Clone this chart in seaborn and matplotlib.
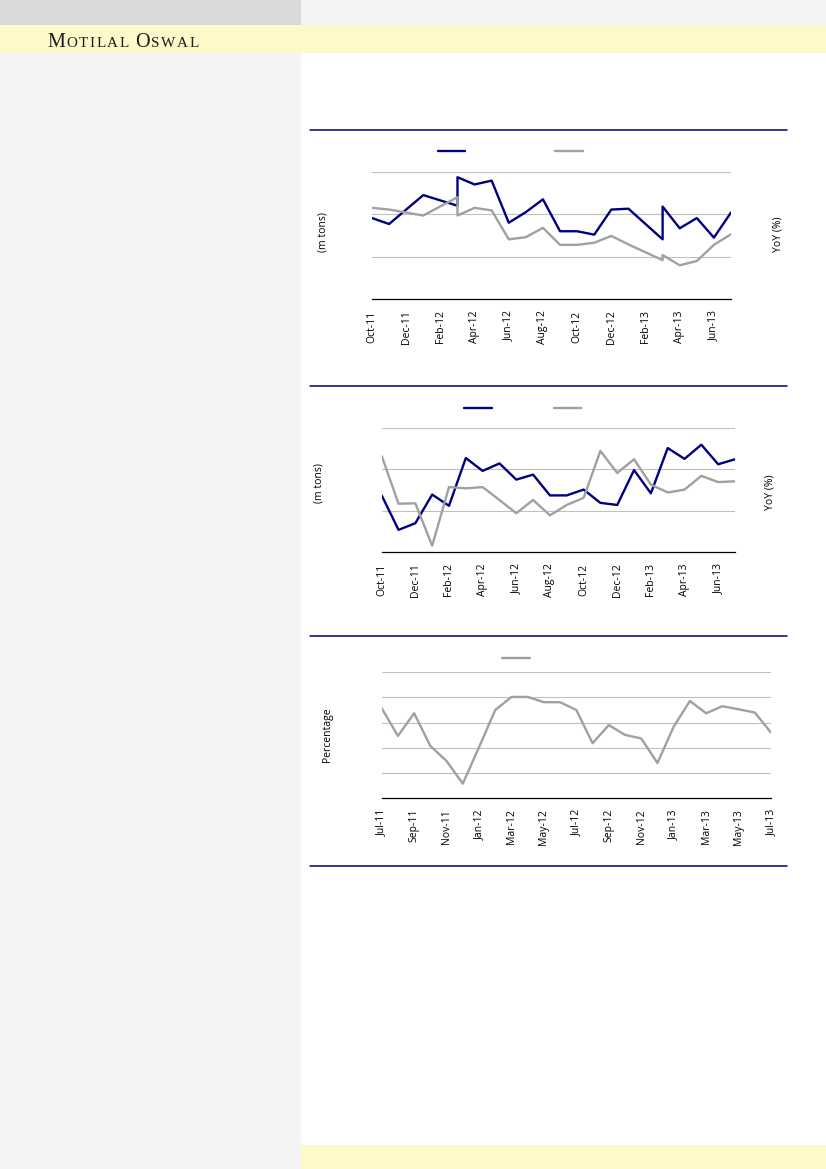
import numpy as np
import pandas as pd
import matplotlib
matplotlib.use("Agg")
import matplotlib.pyplot as plt
import seaborn as sns
from matplotlib.patches import Rectangle
from matplotlib.lines import Line2D

# -------------------
# Data (y in gridline units, no tick labels shown)
months1 = ["Oct-11", "Nov-11", "Jan-12", "Mar-12", "Mar-12", "Apr-12", "May-12",
           "Jun-12", "Jul-12", "Aug-12", "Sep-12", "Oct-12", "Nov-12", "Dec-12",
           "Jan-13", "Mar-13", "Mar-13", "Apr-13", "May-13", "Jun-13", "Jul-13"]
volume1 = [1.91, 1.77, 2.45, 2.20, 2.87, 2.70, 2.79, 1.80, 2.05, 2.35, 1.60,
           1.60, 1.52, 2.11, 2.13, 1.41, 2.18, 1.67, 1.91, 1.45, 2.04]
yoy1 = [2.15, 2.11, 1.97, 2.40, 1.97, 2.15, 2.09, 1.41, 1.46, 1.68, 1.28,
        1.28, 1.33, 1.49, 1.29, 0.92, 1.04, 0.80, 0.90, 1.28, 1.53]

months2 = ["Oct-11", "Nov-11", "Dec-11", "Jan-12", "Feb-12", "Mar-12", "Apr-12",
           "May-12", "Jun-12", "Jul-12", "Aug-12", "Sep-12", "Oct-12", "Nov-12",
           "Dec-12", "Jan-13", "Feb-13", "Mar-13", "Apr-13", "May-13", "Jun-13",
           "Jul-13"]
volume2 = [1.37, 0.54, 0.70, 1.39, 1.12, 2.27, 1.96, 2.14, 1.75, 1.87, 1.37,
           1.37, 1.51, 1.19, 1.14, 1.98, 1.42, 2.51, 2.25, 2.59, 2.12, 2.24]
yoy2 = [2.32, 1.17, 1.18, 0.16, 1.57, 1.54, 1.57, 1.26, 0.94, 1.26, 0.89,
        1.14, 1.31, 2.44, 1.91, 2.24, 1.63, 1.44, 1.51, 1.84, 1.69, 1.71]

months3 = ["Jul-11", "Aug-11", "Sep-11", "Oct-11", "Nov-11", "Dec-11", "Jan-12",
           "Feb-12", "Mar-12", "Apr-12", "May-12", "Jun-12", "Jul-12", "Aug-12",
           "Sep-12", "Oct-12", "Nov-12", "Dec-12", "Jan-13", "Feb-13", "Mar-13",
           "Apr-13", "May-13", "Jun-13", "Jul-13"]
pct3 = [3.57, 2.47, 3.37, 2.07, 1.47, 0.57, 2.02, 3.50, 4.02, 4.02, 3.81, 3.81,
        3.50, 2.18, 2.90, 2.51, 2.37, 1.39, 2.84, 3.86, 3.37, 3.65, 3.53, 3.40, 2.60]

ticks12 = ["Oct-11", "Dec-11", "Feb-12", "Apr-12", "Jun-12", "Aug-12", "Oct-12",
           "Dec-12", "Feb-13", "Apr-13", "Jun-13"]
ticks3 = ["Jul-11", "Sep-11", "Nov-11", "Jan-12", "Mar-12", "May-12", "Jul-12",
          "Sep-12", "Nov-12", "Jan-13", "Mar-13", "May-13", "Jul-13"]

NAVY = "#000080"
GREY = "#a0a0a0"
GRID = "#c0c0c0"
W, H = 826, 1169

sns.set_style("white")
plt.rcParams["font.family"] = ["Open Sans", "DejaVu Sans"]
plt.rcParams["text.color"] = "black"
plt.rcParams["xtick.color"] = "black"


def month_pos(labels):
    d = pd.to_datetime(pd.Series(labels), format="%b-%y")
    return (d.dt.year * 12 + d.dt.month - 1).to_numpy()


def box(x0, y0, x1, y1):
    # pixel box (top-left origin) -> figure fraction rect
    return [x0 / W, 1 - y1 / H, (x1 - x0) / W, (y1 - y0) / H]


def style(ax, months, ticks, ymax):
    pos = month_pos(months)
    ax.set_xlim(pos.min(), pos.max())
    ax.set_ylim(0, ymax)
    ax.set_yticks(np.arange(1, ymax + 1))
    ax.yaxis.grid(True, color=GRID, lw=0.8)
    ax.xaxis.grid(False)
    ax.tick_params(axis="y", length=0, labelleft=False, labelright=False)
    ax.set_xticks(month_pos(ticks))
    ax.set_xticklabels(ticks, rotation=90, fontsize=7.5, color="black")
    ax.tick_params(axis="x", length=0, pad=8)
    for s in ["top", "left", "right"]:
        ax.spines[s].set_visible(False)
    ax.spines["bottom"].set_color("black")
    ax.spines["bottom"].set_linewidth(0.9)
    ax.set_xlabel("")
    ax.set_ylabel("")


def hide_twin(ax2, ymax):
    ax2.set_ylim(0, ymax)
    ax2.grid(False)
    ax2.set_yticks([])
    for s in ax2.spines.values():
        s.set_visible(False)
    ax2.set_ylabel("")


fig = plt.figure(figsize=(W / 100, H / 100), dpi=100)
fig.patch.set_facecolor("white")

# page decoration
for (x0, y0, x1, y1), c in [((0, 0, 301, H), "#f4f4f4"),
                            ((0, 0, 301, 25), "#d9d9d9"),
                            ((301, 0, W, 25), "#f4f4f4"),
                            ((0, 25, W, 53), "#fff8c8"),
                            ((301, 1145, W, H), "#fff8c8")]:
    r = box(x0, y0, x1, y1)
    fig.add_artist(Rectangle((r[0], r[1]), r[2], r[3], transform=fig.transFigure,
                             color=c, lw=0, zorder=-10))
for y in [130, 386, 636, 866]:
    fig.add_artist(Line2D([310 / W, 787 / W], [1 - y / H] * 2, color=NAVY, lw=1.1,
                          transform=fig.transFigure))

# brand name in small caps
renderer = fig.canvas.get_renderer()
x = 47.3
for word in ["MOTILAL", "OSWAL"]:
    for i, ch in enumerate(word):
        t = fig.text(x / W, 1 - 47.3 / H, ch, fontsize=14.5 if i == 0 else 10.9,
                     family="Liberation Serif", color="#1a1a1a", va="baseline")
        x = t.get_window_extent(renderer).x1 + 1.5
    x += 5

lw = 1.7
lab = dict(rotation=90, ha="center", va="center", fontsize=7.5, color="black")

# -------------------
# Chart 1
ax1 = fig.add_axes(box(372, 171.7, 731, 299.3))
sns.lineplot(x=month_pos(months1), y=volume1, ax=ax1, color=NAVY, lw=lw,
             estimator=None, sort=False)
style(ax1, months1, ticks12, 3)
ax1b = ax1.twinx()
sns.lineplot(x=month_pos(months1), y=yoy1, ax=ax1b, color=GREY, lw=lw,
             estimator=None, sort=False)
hide_twin(ax1b, 3)
fig.legend([ax1.get_lines()[0], ax1b.get_lines()[0]], ["", ""], ncol=2,
           loc="center left", bbox_to_anchor=(437.7 / W, 1 - 151.7 / H),
           frameon=False, fontsize=7, handlelength=2.8, handletextpad=0,
           columnspacing=9.3, borderpad=0, borderaxespad=0)
fig.text(323 / W, 1 - 232 / H, "(m tons)", **lab)
fig.text(777.5 / W, 1 - 234 / H, "YoY (%)", **lab)

# -------------------
# Chart 2
ax2 = fig.add_axes(box(381.7, 427.7, 735, 552.3))
sns.lineplot(x=month_pos(months2), y=volume2, ax=ax2, color=NAVY, lw=lw,
             estimator=None, sort=False)
style(ax2, months2, ticks12, 3)
ax2b = ax2.twinx()
sns.lineplot(x=month_pos(months2), y=yoy2, ax=ax2b, color=GREY, lw=lw,
             estimator=None, sort=False)
hide_twin(ax2b, 3)
fig.legend([ax2.get_lines()[0], ax2b.get_lines()[0]], ["", ""], ncol=2,
           loc="center left", bbox_to_anchor=(464.3 / W, 1 - 408.7 / H),
           frameon=False, fontsize=7, handlelength=2.8, handletextpad=0,
           columnspacing=6.4, borderpad=0, borderaxespad=0)
fig.text(319 / W, 1 - 483 / H, "(m tons)", **lab)
fig.text(770 / W, 1 - 492 / H, "YoY (%)", **lab)

# -------------------
# Chart 3
ax3 = fig.add_axes(box(381.7, 672.3, 771, 798))
sns.lineplot(x=month_pos(months3), y=pct3, ax=ax3, color=GREY, lw=lw,
             estimator=None, sort=False)
style(ax3, months3, ticks3, 5)
fig.legend([ax3.get_lines()[0]], [""], loc="center left",
           bbox_to_anchor=(502.3 / W, 1 - 658.7 / H), frameon=False, fontsize=7,
           handlelength=2.8, handletextpad=0, borderpad=0, borderaxespad=0)
fig.text(327.5 / W, 1 - 735 / H, "Percentage", **lab)

fig.savefig("out.png", dpi=100)
